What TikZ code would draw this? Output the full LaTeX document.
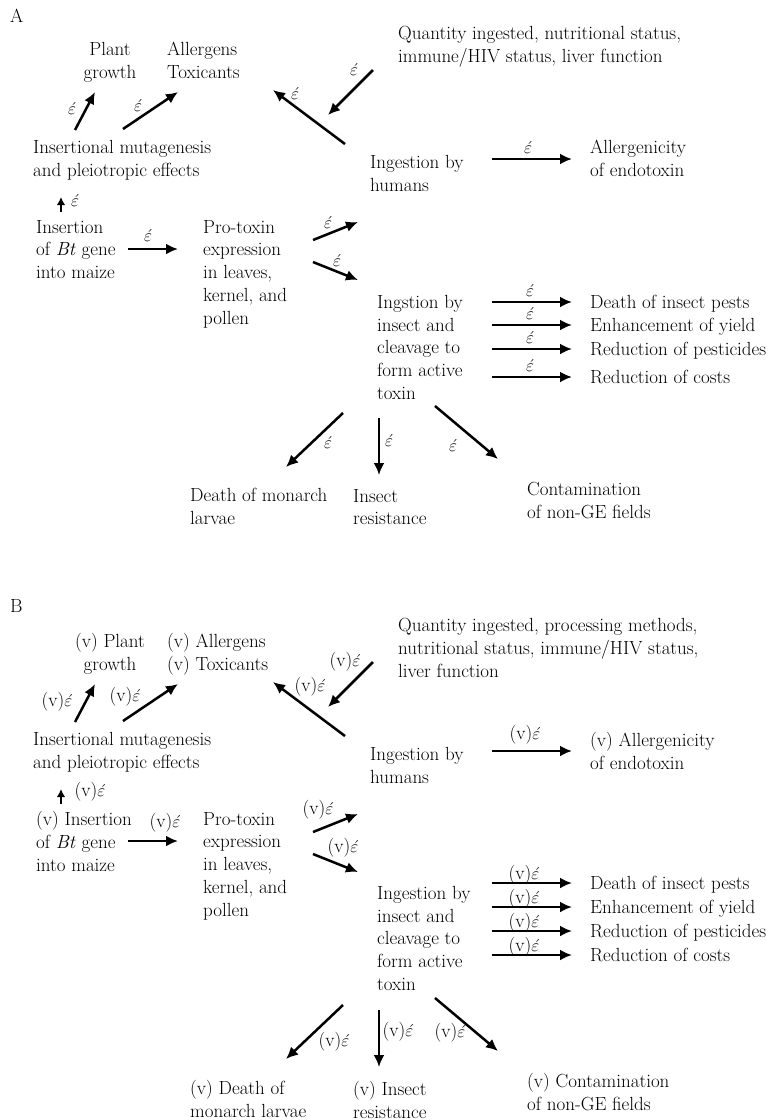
\documentclass[tikz,border=0pt]{standalone}
\usepackage{fontspec}
\usetikzlibrary{arrows.meta}

\begin{document}
\begin{tikzpicture}[
      x=1pt, y=-1pt,
      every node/.style = {font=\fontsize{19}{22.8}\selectfont},
      txt/.style  = {inner sep=0pt, anchor=north west, align=left},
      eps/.style  = {inner sep=0pt},
      link/.style = {line width=2.5pt, -{Latex[length=12pt,width=11pt]}},
      short/.style = {line width=2.5pt, -{Latex[length=8pt,width=8.5pt]}}
    ]
    \def\ee{$\acute{\varepsilon}$}
    \def\ve{(v)$\acute{\varepsilon}$}
    \useasboundingbox (0,0) rectangle (778,1120);

    % panel A
    \node[txt] (a-lbl) at (10,9) {A};
    \node[txt, anchor=north, align=center] (a-plant) at (110,42) {Plant\\growth};
    \node[txt] (a-allerg)  at (167,42)  {Allergens\\Toxicants};
    \node[txt] (a-quant)   at (398,26)  {Quantity ingested, nutritional status,\\immune/HIV status, liver function};
    \node[txt] (a-mut)     at (33,140)  {Insertional mutagenesis\\and pleiotropic effects};
    \node[txt] (a-humans)  at (370,155) {Ingestion by\\humans};
    \node[txt] (a-endo)    at (590,140) {Allergenicity\\of endotoxin};
    \node[txt] (a-ins)     at (36,220)  {Insertion\\of \textit{Bt} gene\\into maize};
    \node[txt] (a-pro)     at (203,220) {Pro-toxin\\expression\\in leaves,\\kernel, and\\pollen};
    \node[txt] (a-insect)  at (377,295) {Ingstion by\\insect and\\cleavage to\\form active\\toxin};
    \node[txt] (a-monarch) at (190,488) {Death of monarch\\larvae};
    \node[txt] (a-resist)  at (353,489) {Insect\\resistance};
    \node[txt] (a-contam)  at (527,482) {Contamination\\of non-GE fields};
    \coordinate (a-mod) at (328,115);

    \draw[link] ([shift={(42,-10)}]a-mut.north west) -- node[eps, shift={(-13,-3)}] {\ee} ([shift={(-15,50)}]a-plant.north);
    \draw[link] ([shift={(90,-11)}]a-mut.north west) -- node[eps, shift={(-12.5,-5.5)}] {\ee} ([shift={(11,50)}]a-allerg.north west);
    \draw[link] ([shift={(-25,44)}]a-quant.north west) -- node[eps, pos=0, shift={(-19,-1)}] {\ee} (a-mod);
    \draw[link] ([shift={(-25,-11)}]a-humans.north west) -- node[eps, pos=1, shift={(22,3)}] {\ee} ([shift={(106,48)}]a-allerg.north west);
    \draw[link] ([shift={(122,4)}]a-humans.north west) -- node[eps, shift={(-4,-12)}] {\ee} ([shift={(-18,19)}]a-endo.north west);
    \draw[short] ([shift={(25,-8)}]a-ins.north west) -- node[eps, shift={(14,-4.5)}] {\ee} ([shift={(28,57)}]a-mut.north west);
    \draw[link] ([shift={(92,29)}]a-ins.north west) -- node[eps, shift={(-5,-14)}] {\ee} ([shift={(-25,29)}]a-pro.north west);
    \draw[link] ([shift={(110,20)}]a-pro.north west) -- node[eps, shift={(-7.5,-9)}] {\ee} ([shift={(-12,67)}]a-humans.north west);
    \draw[link] ([shift={(110,42)}]a-pro.north west) -- node[eps, shift={(1.5,-11)}] {\ee} ([shift={(-19,-15)}]a-insect.north west);
    \foreach \outtext/\ty [count=\i] in {Death of insect pests/295, Enhancement of yield/318,
        Reduction of pesticides/342, Reduction of costs/370}{
      \node[txt] (a-out\i) at (590,\ty) {\outtext};
      \pgfmathsetmacro\dy{\ty-288}
      \draw[link] ([shift={(115,\dy)}]a-insect.north west) -- node[eps, shift={(-2,-12)}] {\ee} ([shift={(-18,7)}]a-out\i.north west);
    }
    \draw[link] ([shift={(-34,118)}]a-insect.north west) -- node[eps, shift={(13.5,2)}] {\ee} ([shift={(96,-21)}]a-monarch.north west);
    \draw[link] ([shift={(2,123)}]a-insect.north west) -- node[eps, shift={(10,-6.5)}] {\ee} ([shift={(26,-14)}]a-resist.north west);
    \draw[link] ([shift={(58,111)}]a-insect.north west) -- node[eps, shift={(-13.5,12.5)}] {\ee} ([shift={(-29,-23)}]a-contam.north west);

    % panel B
    \begin{scope}[yshift=-592pt]
    \node[txt] (b-lbl) at (10,7) {B};
    \node[txt, anchor=north, align=center] (b-plant) at (110,41) {(v) Plant\\growth};
    \node[txt] (b-allerg)  at (167,41)  {(v) Allergens\\(v) Toxicants};
    \node[txt] (b-quant)   at (398,26)  {Quantity ingested, processing methods,\\nutritional status, immune/HIV status,\\liver function};
    \node[txt] (b-mut)     at (33,140)  {Insertional mutagenesis\\and pleiotropic effects};
    \node[txt] (b-humans)  at (370,155) {Ingestion by\\humans};
    \node[txt] (b-endo)    at (590,140) {(v) Allergenicity\\of endotoxin};
    \node[txt] (b-ins)     at (36,219)  {(v) Insertion\\of \textit{Bt} gene\\into maize};
    \node[txt] (b-pro)     at (203,220) {Pro-toxin\\expression\\in leaves,\\kernel, and\\pollen};
    \node[txt] (b-insect)  at (377,294) {Ingestion by\\insect and\\cleavage to\\form active\\toxin};
    \node[txt] (b-monarch) at (190,488) {(v) Death of\\monarch larvae};
    \node[txt] (b-resist)  at (353,489) {(v) Insect\\resistance};
    \node[txt] (b-contam)  at (527,481) {(v) Contamination\\of non-GE fields};
    \coordinate (b-mod) at (328,115);

    \draw[link] ([shift={(42,-10)}]b-mut.north west) -- node[eps, shift={(-28,-1)}] {\ve} ([shift={(-15,51)}]b-plant.north);
    \draw[link] ([shift={(90,-11)}]b-mut.north west) -- node[eps, shift={(-25.5,-5.5)}] {\ve} ([shift={(11,51)}]b-allerg.north west);
    \draw[link] ([shift={(-25,44)}]b-quant.north west) -- node[eps, pos=0, shift={(-28,0)}] {\ve} (b-mod);
    \draw[link] ([shift={(-25,-11)}]b-humans.north west) -- node[eps, pos=1, shift={(37,5)}] {\ve} ([shift={(106,49)}]b-allerg.north west);
    \draw[link] ([shift={(122,4)}]b-humans.north west) -- node[eps, shift={(-7,-16)}] {\ve} ([shift={(-18,19)}]b-endo.north west);
    \draw[short] ([shift={(25,-7)}]b-ins.north west) -- node[eps, shift={(29,-4.5)}] {\ve} ([shift={(28,57)}]b-mut.north west);
    \draw[link] ([shift={(92,30)}]b-ins.north west) -- node[eps, shift={(12,-18)}] {\ve} ([shift={(-25,29)}]b-pro.north west);
    \draw[link] ([shift={(110,20)}]b-pro.north west) -- node[eps, shift={(-17.5,-13)}] {\ve} ([shift={(-12,67)}]b-humans.north west);
    \draw[link] ([shift={(110,42)}]b-pro.north west) -- node[eps, shift={(7.5,-15)}] {\ve} ([shift={(-19,-14)}]b-insect.north west);
    \foreach \outtext/\ty [count=\i] in {Death of insect pests/284, Enhancement of yield/308,
        Reduction of pesticides/332, Reduction of costs/356}{
      \node[txt] (b-out\i) at (590,\ty) {\outtext};
      \pgfmathsetmacro\dy{\ty-287}
      \draw[link] ([shift={(115,\dy)}]b-insect.north west) -- node[eps, shift={(-8,-8)}] {\ve} ([shift={(-18,7)}]b-out\i.north west);
    }
    \draw[link] ([shift={(-34,119)}]b-insect.north west) -- node[eps, shift={(19.5,9.5)}] {\ve} ([shift={(96,-21)}]b-monarch.north west);
    \draw[link] ([shift={(2,124)}]b-insect.north west) -- node[eps, shift={(19,-6.5)}] {\ve} ([shift={(26,-14)}]b-resist.north west);
    \draw[link] ([shift={(58,112)}]b-insect.north west) -- node[eps, shift={(-16.5,8.5)}] {\ve} ([shift={(-29,-22)}]b-contam.north west);
    \end{scope}
  \end{tikzpicture}
\end{document}
